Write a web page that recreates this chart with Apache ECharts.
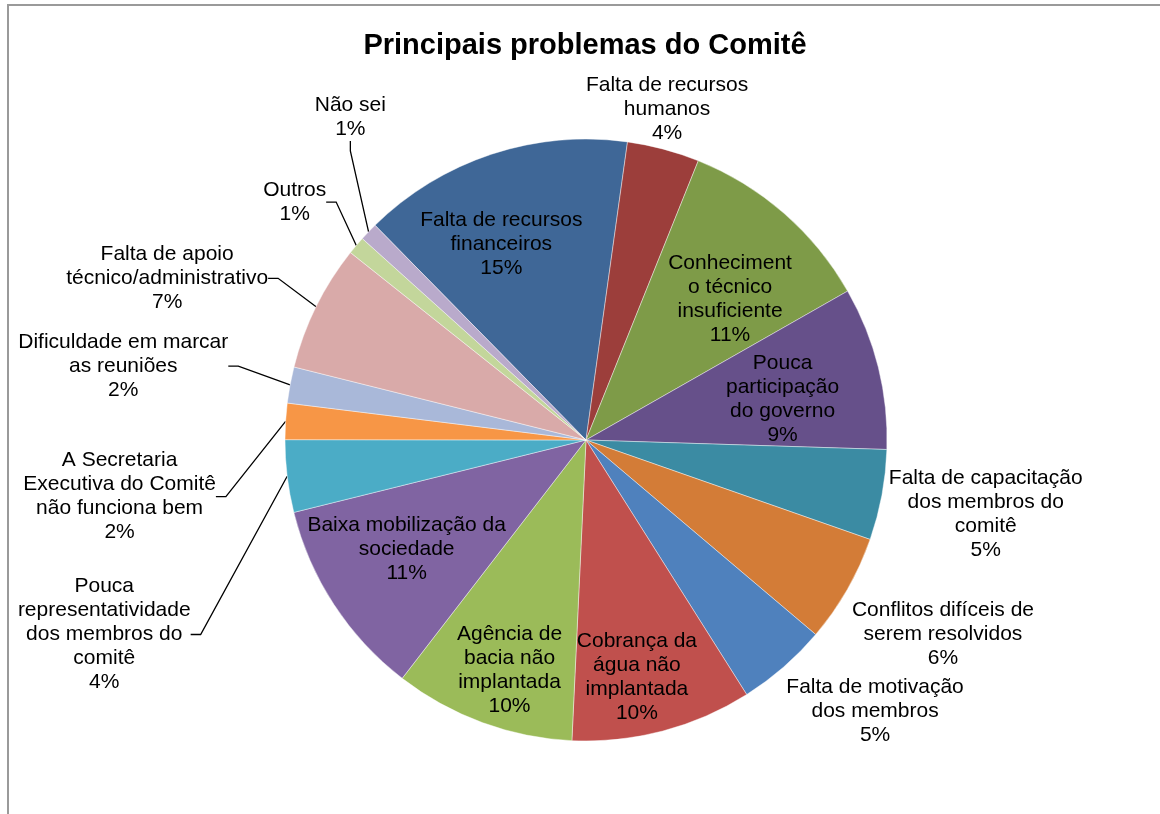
<!DOCTYPE html>
<html>
<head>
<meta charset="utf-8">
<script src="https://cdn.jsdelivr.net/npm/echarts@6/dist/echarts.min.js"></script>
<style>
html,body{margin:0;padding:0;background:#fff;}
#chart{width:1160px;height:814px;}
</style>
</head>
<body>
<div id="chart"></div>
<script>
// ---- data ----
const chartTitle = 'Principais problemas do Comitê';
const categories = [
  'Falta de recursos\nfinanceiros',
  'Falta de recursos\nhumanos',
  'Conheciment\no técnico\ninsuficiente',
  'Pouca\nparticipação\ndo governo',
  'Falta de capacitação\ndos membros do\ncomitê',
  'Conflitos difíceis de\nserem resolvidos',
  'Falta de motivação\ndos membros',
  'Cobrança da\nágua não\nimplantada',
  'Agência de\nbacia não\nimplantada',
  'Baixa mobilização da\nsociedade',
  'Pouca\nrepresentatividade\ndos membros do\ncomitê',
  'A Secretaria\nExecutiva do Comitê\nnão funciona bem',
  'Dificuldade em marcar\nas reuniões',
  'Falta de apoio\ntécnico/administrativo',
  'Outros',
  'Não sei'
];
const counts = [15, 4, 11, 9, 5, 6, 5, 10, 10, 11, 4, 2, 2, 7, 1, 1];

// ---- styles ----
const sliceColors = [
  '#3F6797', '#9C3E3B', '#7E9B48', '#66508A', '#3B8BA3', '#D37C37',
  '#4F81BD', '#C0504D', '#9BBB59', '#8064A2', '#4BACC6', '#F79646',
  '#A9B8D9', '#D9AAA9', '#C3D69B', '#B9AACB'
];
// 'in' = inside label, 'out' = outside without leader, 'lead' = outside with leader line
const labelKind = ['in','out','in','in','out','out','out','in','in','in','lead','lead','lead','lead','lead','lead'];
// label nudges (px) relative to the library's default label anchor
const labelNudge = [
  [-16, 12], [-14, -30], [0, 24], [-16, 12], [79, 17], [72, 40], [70, 37],
  [-5, 25], [-1, 25], [4, -11], [-158, 157], [-141, 76], [-142, -17],
  [-125, -24], [-39, -37], [4, -108]
];

const FONT = '"Liberation Sans", Arial, sans-serif';
const CENTER = [586, 440];
const R = 301;

const chart = echarts.init(document.getElementById('chart'), null, {renderer: 'canvas'});

const shapeData = categories.map((c, i) => ({
  name: c, value: counts[i], itemStyle: {color: sliceColors[i]}
}));
const labelData = categories.map((c, i) => ({
  name: c, value: counts[i],
  label: {position: labelKind[i] === 'in' ? 'inside' : 'outside'},
  labelLine: {show: labelKind[i] === 'lead'}
}));

chart.setOption({
  animation: false,
  backgroundColor: '#ffffff',
  title: {
    text: chartTitle,
    left: 580,
    top: 26,
    textAlign: 'center',
    textStyle: {fontFamily: FONT, fontSize: 29, fontWeight: 'bold', color: '#000'}
  },
  graphic: [{
    type: 'rect', silent: true, z: -1,
    shape: {x: 8, y: 5, width: 1400, height: 1000},
    style: {fill: 'none', stroke: '#9a9a9a', lineWidth: 2}
  }],
  series: [
    {
      type: 'pie',
      center: CENTER,
      radius: [0, R],
      startAngle: 134.5,
      clockwise: true,
      silent: true,
      label: {show: false},
      labelLine: {show: false},
      itemStyle: {borderColor: 'rgba(255,255,255,0.7)', borderWidth: 0.6},
      emphasis: {disabled: true},
      data: shapeData
    },
    {
      type: 'pie',
      center: CENTER,
      radius: [131, R],
      startAngle: 134.5,
      clockwise: true,
      silent: true,
      avoidLabelOverlap: false,
      itemStyle: {color: 'rgba(0,0,0,0)', borderWidth: 0},
      emphasis: {disabled: true},
      label: {
        show: true,
        color: '#000',
        fontFamily: FONT,
        fontSize: 21,
        lineHeight: 24,
        formatter: p => p.name + '\n' + Math.round(p.percent) + '%'
      },
      labelLine: {
        length: 10,
        length2: 10,
        lineStyle: {color: '#000', width: 1.3}
      },
      labelLayout: function (p) {
        const n = labelNudge[p.dataIndex];
        const r = p.labelRect;
        const ax = p.align === 'left' ? r.x : (p.align === 'right' ? r.x + r.width : r.x + r.width / 2);
        const ay = r.y + r.height / 2;
        return {x: ax + n[0], y: ay + n[1], align: 'center', verticalAlign: 'middle'};
      },
      data: labelData
    }
  ]
});
</script>
</body>
</html>
